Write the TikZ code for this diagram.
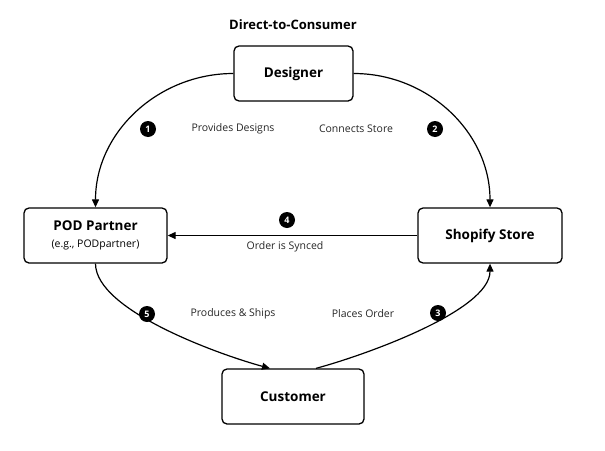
\documentclass[tikz,border=0pt]{standalone}
\usepackage{fontspec}
\setmainfont{Open Sans}
\usetikzlibrary{positioning,arrows.meta}

\begin{document}
\begin{tikzpicture}[x=1pt,y=1pt,
    actor/.style={draw,line width=1.3pt,rounded corners=5pt,fill=white,
      minimum height=55pt,align=center,font=\bfseries\fontsize{13.5}{16}\selectfont},
    flow/.style={-{Triangle[length=8pt,width=7pt]},line width=1.2pt},
    badge/.style={circle,fill=black,text=white,inner sep=0pt,minimum size=16pt,
      font=\bfseries\fontsize{9}{9}\selectfont},
    lbl/.style={text=black!85,font=\fontsize{10.5}{12}\selectfont}]
  \useasboundingbox (0,0) rectangle (605,-450);

  \node[font=\bfseries\fontsize{13}{15}\selectfont] (title) at (293,-25) {Direct-to-Consumer};

  % the four parties
  \node[actor,minimum width=119pt] (designer) at (293.5,-73.5) {Designer};
  \node[actor,minimum width=143pt] (pod) at (95.5,-235.5)
    {POD Partner\\[1pt]{\mdseries\fontsize{10.5}{12}\selectfont (e.g., PODpartner)}};
  \node[actor,minimum width=144pt] (shop) at (490,-235.5) {Shopify Store};
  \node[actor,minimum width=142pt] (cust) at (293,-396.5) {Customer};

  % flows
  \draw[flow] (designer.west) to[out=180,in=90] (pod.north);
  \draw[flow] (designer.east) to[out=0,in=90] (shop.north);
  \draw[flow] ([xshift=23pt]cust.north) to[out=15,in=-90,looseness=0.6] (shop.south);
  \draw[flow] (shop.west) -- (pod.east);
  \draw[flow] (pod.south) to[out=-90,in=165,looseness=0.6] ([xshift=-23pt]cust.north);

  % step numbers
  \foreach \n/\x/\y in {1/148/129, 2/435/129, 3/438/313, 4/287/220, 5/147/314}{
    \node[badge] (step\n) at (\x,-\y) {\n};
  }

  \node[lbl] (l1) at (233,-129) {Provides Designs};
  \node[lbl] (l2) at (356,-129) {Connects Store};
  \node[lbl] (l3) at (363,-314) {Places Order};
  \node[lbl] (l4) at (285,-247) {Order is Synced};
  \node[lbl] (l5) at (233,-314) {Produces \& Ships};
\end{tikzpicture}
\end{document}
